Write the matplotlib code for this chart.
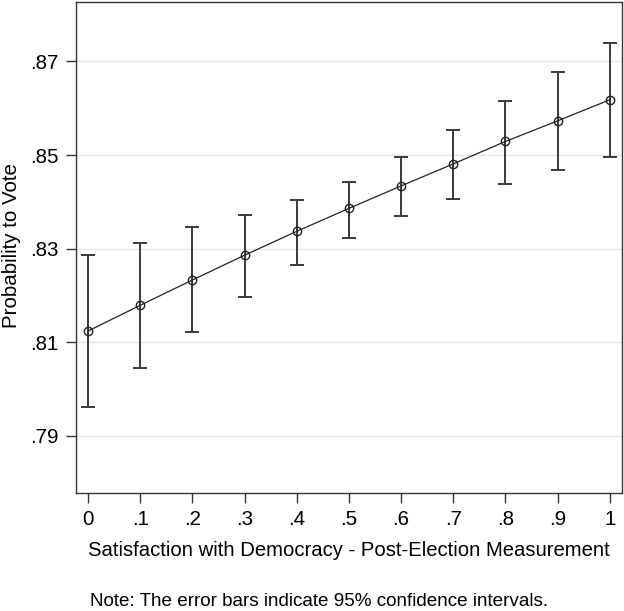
import matplotlib
matplotlib.use("Agg")
import matplotlib.pyplot as plt
import numpy as np

plt.rcParams['font.family'] = ['Liberation Sans', 'DejaVu Sans']

x = [0, .1, .2, .3, .4, .5, .6, .7, .8, .9, 1]
prob = [.8124, .8179, .8233, .8286, .8337, .8386, .8434, .8481, .8529, .8573, .8618]
upper = [.8286, .8312, .8347, .8371, .8403, .8443, .8495, .8553, .8615, .8678, .8739]
lower = [.7961, .8044, .8122, .8197, .8265, .8322, .8369, .8407, .8438, .8468, .8496]
xticklabels = ['0', '.1', '.2', '.3', '.4', '.5', '.6', '.7', '.8', '.9', '1']
yticks = [.79, .81, .83, .85, .87]
yticklabels = ['.79', '.81', '.83', '.85', '.87']

fig = plt.figure(figsize=(6.24, 6.11), dpi=100)
ax = fig.add_axes([75.5/624, 1 - 493/611, (622-75.5)/624, (493-2)/611])

p = np.array(prob)
yerr = [p - np.array(lower), np.array(upper) - p]
ax.errorbar(x, prob, yerr=yerr, fmt='none', ecolor='#3a3a3a', elinewidth=1.4,
            capsize=4.7, capthick=1.4, zorder=2)
ax.plot(x, prob, color='#222222', lw=0.9, marker='o', markersize=6,
        markerfacecolor='none', markeredgecolor='#222222', markeredgewidth=1.0, zorder=3)

ax.set_xlim(-0.024, 1.0236)
ax.set_ylim(0.7778, 0.8827)
ax.set_xticks(x)
ax.set_xticklabels(xticklabels)
ax.set_yticks(yticks)
ax.set_yticklabels(yticklabels)
ax.yaxis.grid(True, color='#e6e6e6', lw=1.0)
ax.set_axisbelow(True)
ax.tick_params(axis='both', direction='out', length=7, width=1.0, color='#333333',
               labelsize=14.8, pad=5)
for s in ax.spines.values():
    s.set_color('#333333')
    s.set_linewidth(1.0)

fig.text(12/624, 1 - 246/611, 'Probability to Vote', rotation=90, ha='center', va='center',
         fontsize=14.8)
fig.text(349/624, 1 - 551/611, 'Satisfaction with Democracy - Post-Election Measurement',
         ha='center', va='center', fontsize=14.6)
fig.text(319/624, 1 - 602/611, 'Note: The error bars indicate 95% confidence intervals.',
         ha='center', va='center', fontsize=13.6)

fig.savefig('out.png', dpi=100, facecolor='white')
